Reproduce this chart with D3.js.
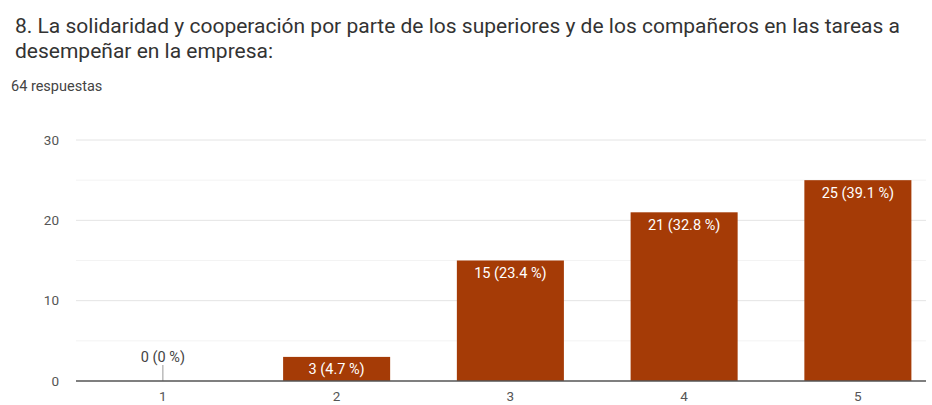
<!DOCTYPE html>
<html>
<head>
<meta charset="utf-8">
<script src="https://cdn.jsdelivr.net/npm/d3@7"></script>
<style>
  html, body { margin: 0; padding: 0; background: #fff; }
  svg { display: block; font-family: Roboto, Arial, sans-serif; }
</style>
</head>
<body>
<svg id="chart" width="932" height="405"></svg>
<script>
// Survey question, response count and answer distribution
const titleLines = [
  "8. La solidaridad y cooperación por parte de los superiores y de los compañeros en las tareas a",
  "desempeñar en la empresa:"
];
const responsesText = "64 respuestas";
const categories = ["1", "2", "3", "4", "5"];
const counts = [0, 3, 15, 21, 25];
const totalResponses = 64;
const yTicks = [0, 10, 20, 30];
const yMinorTicks = [5, 15, 25];

const svg = d3.select("#chart");

// Title and subtitle
svg.selectAll("text.title")
  .data(titleLines)
  .join("text")
  .attr("class", "title")
  .attr("x", 15)
  .attr("y", (d, i) => 33 + i * 25)
  .attr("font-size", 21)
  .attr("fill", "#333")
  .text(d => d);

svg.append("text")
  .attr("x", 11)
  .attr("y", 91)
  .attr("font-size", 14.5)
  .attr("fill", "#444")
  .text(responsesText);

// Scales
const plotLeft = 76, plotRight = 926;
const x = d3.scaleBand()
  .domain(categories)
  .range([76, 76 + 5 * 173.75])
  .paddingInner(0.384)
  .paddingOuter(0.192);
const y = d3.scaleLinear().domain([0, 30]).range([381, 140]);

// Gridlines
svg.append("g")
  .selectAll("line")
  .data(yMinorTicks)
  .join("line")
  .attr("x1", plotLeft).attr("x2", plotRight)
  .attr("y1", d => y(d)).attr("y2", d => y(d))
  .attr("stroke", "#f3f3f3").attr("stroke-width", 1);

svg.append("g")
  .selectAll("line")
  .data(yTicks.filter(t => t !== 0))
  .join("line")
  .attr("x1", plotLeft).attr("x2", plotRight)
  .attr("y1", d => y(d)).attr("y2", d => y(d))
  .attr("stroke", "#e4e4e4").attr("stroke-width", 1);

// Y axis labels
const yAxis = d3.axisLeft(y).tickValues(yTicks).tickSize(0).tickPadding(0);
const yG = svg.append("g")
  .attr("transform", `translate(${plotLeft - 17},0)`)
  .call(yAxis);
yG.select(".domain").remove();
yG.selectAll("text")
  .attr("font-family", "Roboto, Arial, sans-serif")
  .attr("font-size", 13.5)
  .attr("fill", "#555");

// Bars
const fmtPct = v => {
  const p = Math.round(v / totalResponses * 1000) / 10;
  return `${v} (${p} %)`;
};
const data = categories.map((c, i) => ({ c, v: counts[i] }));

svg.append("g")
  .selectAll("rect")
  .data(data)
  .join("rect")
  .attr("x", d => x(d.c))
  .attr("width", x.bandwidth())
  .attr("y", d => y(d.v))
  .attr("height", d => y(0) - y(d.v))
  .attr("fill", "#a53b06");

// Value labels
svg.append("g")
  .selectAll("text")
  .data(data)
  .join("text")
  .attr("x", d => x(d.c) + x.bandwidth() / 2)
  .attr("y", d => d.v === 0 ? y(0) - 19 : y(d.v) + 17.5)
  .attr("text-anchor", "middle")
  .attr("font-size", 14.5)
  .attr("fill", d => d.v === 0 ? "#444" : "#fff")
  .text(d => fmtPct(d.v));

// Leader for zero-value label
svg.append("g")
  .selectAll("line")
  .data(data.filter(d => d.v === 0))
  .join("line")
  .attr("x1", d => x(d.c) + x.bandwidth() / 2)
  .attr("x2", d => x(d.c) + x.bandwidth() / 2)
  .attr("y1", y(0) - 16)
  .attr("y2", y(0))
  .attr("stroke", "#999")
  .attr("stroke-width", 1);

// Baseline
svg.append("line")
  .attr("x1", plotLeft).attr("x2", plotRight)
  .attr("y1", y(0)).attr("y2", y(0))
  .attr("stroke", "#555").attr("stroke-width", 1.5);

// X axis labels
const xAxis = d3.axisBottom(x).tickSize(0).tickPadding(0);
const xG = svg.append("g")
  .attr("transform", `translate(0,${y(0) + 10})`)
  .call(xAxis);
xG.select(".domain").remove();
xG.selectAll("text")
  .attr("font-family", "Roboto, Arial, sans-serif")
  .attr("font-size", 13.5)
  .attr("fill", "#555");
</script>
</body>
</html>
